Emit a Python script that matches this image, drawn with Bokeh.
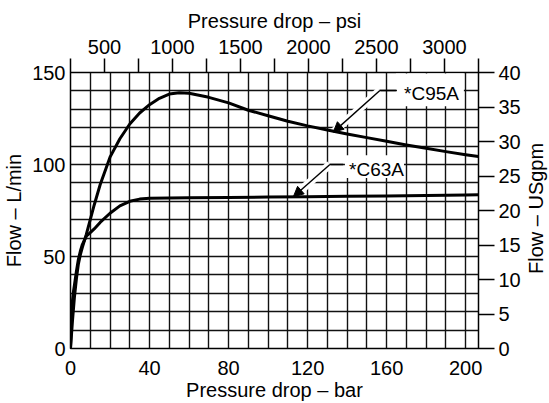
import math
from bokeh.plotting import figure
from bokeh.layouts import row
from bokeh.models import Range1d, LinearAxis, FixedTicker, Label, Arrow, NormalHead
from bokeh.embed import file_html
from bokeh.resources import INLINE

# ---- data ----
bar_c95a = [0, 1, 2, 3, 4, 5, 6, 8, 10, 12, 15, 20, 25, 30, 35, 40, 45, 50, 55, 60,
            70, 80, 90, 100, 110, 120, 130, 140, 150, 160, 170, 180, 190, 200, 206.5]
flow_c95a = [0, 15, 28, 38, 46, 51, 55, 62, 70, 78, 89, 104, 114, 122, 128, 132.5, 136, 138.3, 139, 138.7,
             136.5, 133.5, 129.5, 126.5, 123.5, 121, 118.8, 116.6, 114.6, 112.6, 110.6, 108.8, 107, 105.3, 104.3]

bar_c63a = [0, 0.5, 1, 1.5, 2, 3, 4, 5, 6, 8, 10, 12, 15, 20, 25, 30, 35, 40, 50, 60,
            80, 100, 120, 140, 160, 180, 200, 206.5]
flow_c63a = [0, 15, 26, 31, 34.5, 42, 48.5, 53, 56.5, 61, 63, 65, 68.5, 73.5, 77.5, 80, 81.2, 81.6, 81.8, 81.9,
             82.1, 82.3, 82.5, 82.7, 82.9, 83.1, 83.4, 83.5]

bar_ticks = [0, 40, 80, 120, 160, 200]
lmin_ticks = [0, 50, 100, 150]
psi_ticks = [500, 1000, 1500, 2000, 2500, 3000]
psi_minor = [250, 750, 1250, 1750, 2250, 2750, 3250]
gpm_ticks = [0, 5, 10, 15, 20, 25, 30, 35, 40]
bar_grid = list(range(0, 201, 10))
lmin_grid = list(range(0, 151, 10))

series_names = ["*C95A", "*C63A"]
right_title = "Flow – USgpm"
# annotation geometry (tip, elbow, end of leader, text anchor, white box)
tip_x = [133, 112.8]
tip_y = [117.6, 82.5]
elbow_x = [156.6, 131.3]
elbow_y = [140.2, 100]
end_x = [165.2, 138]
text_x = [168.8, 141]
text_y = [138.6, 97.5]
box_l = [164.7, 138.9]
box_r = [199.1, 168.8]
box_b = [131.6, 92.6]
box_t = [149.4, 105]

FONT = "Liberation Sans"
FS = "20px"

p = figure(width=523, height=403, output_backend="svg", toolbar_location=None,
           x_range=Range1d(0, 206.5), y_range=Range1d(0, 150),
           min_border_left=70, min_border_right=44, min_border_top=72, min_border_bottom=54,
           background_fill_color="white", border_fill_color="white")
p.extra_x_ranges = {"psi": Range1d(250, 3250)}
p.extra_y_ranges = {"gpm": Range1d(0, 40)}

p.outline_line_color = "black"
p.outline_line_width = 1.5

# grid
p.xgrid.ticker = FixedTicker(ticks=bar_grid)
p.ygrid.ticker = FixedTicker(ticks=lmin_grid)
for g in (p.xgrid, p.ygrid):
    g.grid_line_color = "#111111"
    g.grid_line_width = 1.4
    g.grid_line_alpha = 1.0

def style_axis(ax, tick_out, standoff, title, title_standoff):
    ax.axis_line_color = None
    ax.major_tick_out = tick_out
    ax.major_tick_in = 0
    ax.minor_tick_out = tick_out
    ax.minor_tick_in = 0
    ax.major_tick_line_color = "black" if tick_out else None
    ax.minor_tick_line_color = "black" if tick_out else None
    ax.major_tick_line_width = 1.5
    ax.minor_tick_line_width = 1.5
    ax.major_label_text_font = FONT
    ax.major_label_text_font_size = FS
    ax.major_label_text_color = "black"
    ax.major_label_standoff = standoff
    if title:
        ax.axis_label = title
        ax.axis_label_text_font = FONT
        ax.axis_label_text_font_size = FS
        ax.axis_label_text_font_style = "normal"
        ax.axis_label_text_color = "black"
        ax.axis_label_standoff = title_standoff

p.xaxis.ticker = FixedTicker(ticks=bar_ticks)
style_axis(p.xaxis[0], 0, 12, "Pressure drop – bar", 1)
p.yaxis.ticker = FixedTicker(ticks=lmin_ticks)
style_axis(p.yaxis[0], 0, 5, "Flow – L/min", 4)

top = LinearAxis(x_range_name="psi", ticker=FixedTicker(ticks=psi_ticks, minor_ticks=psi_minor))
style_axis(top, 14, 5, "Pressure drop – psi", 5)
p.add_layout(top, "above")

right = LinearAxis(y_range_name="gpm", ticker=FixedTicker(ticks=gpm_ticks))
style_axis(right, 16, 4, None, 0)
p.add_layout(right, "right")

# white boxes and halos behind annotations
p.quad(left=box_l, right=box_r, bottom=box_b, top=box_t, fill_color="white", line_color=None)
p.segment(x0=tip_x, y0=tip_y, x1=elbow_x, y1=elbow_y, line_color="white", line_width=8)

# curves
p.line(bar_c95a, flow_c95a, line_color="black", line_width=3, line_join="round")
p.line(bar_c63a, flow_c63a, line_color="black", line_width=3, line_join="round")

# leaders
p.segment(x0=elbow_x, y0=elbow_y, x1=end_x, y1=elbow_y, line_color="black", line_width=1.4)
for i in range(2):
    p.add_layout(Arrow(end=NormalHead(size=10, fill_color="black", line_color="black"),
                       x_start=elbow_x[i], y_start=elbow_y[i], x_end=tip_x[i], y_end=tip_y[i],
                       line_color="black", line_width=1.4))
    p.add_layout(Label(x=text_x[i], y=text_y[i], text=series_names[i], text_font=FONT,
                       text_font_size="19px", text_align="left", text_baseline="middle",
                       text_color="black"))

# narrow strip on the right carrying the right-hand axis title (reads bottom to top)
p2 = figure(width=26, height=403, output_backend="svg", toolbar_location=None,
            x_range=Range1d(0, 26), y_range=Range1d(0, 403),
            min_border=0, min_border_left=0, min_border_right=0, min_border_top=0, min_border_bottom=0,
            background_fill_color="white", border_fill_color="white")
p2.axis.visible = False
p2.grid.visible = False
p2.outline_line_color = None
p2.add_layout(Label(x=12, y=204.5, text=right_title, text_font=FONT, text_font_size=FS,
                    text_align="center", text_baseline="middle", angle=math.pi / 2,
                    text_color="black"))

layout = row(p, p2, spacing=0)
open("out.html", "w").write(file_html(layout, INLINE))
